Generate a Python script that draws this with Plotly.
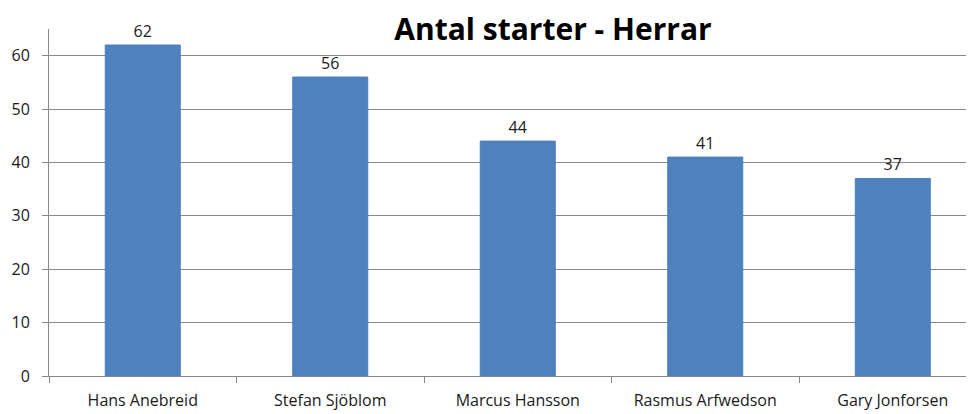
import plotly.graph_objects as go

names = ["Hans Anebreid", "Stefan Sjöblom", "Marcus Hansson", "Rasmus Arfwedson", "Gary Jonforsen"]
starts = [62, 56, 44, 41, 37]
y_ticks = [0, 10, 20, 30, 40, 50, 60]

FONT = "'Open Sans', Lato, sans-serif"
GRID = "#888888"
TXT = "#1a1a1a"

# page body has an 8px default margin -> figure sized to fit the window
W, H = 966, 406

fig = go.Figure(go.Bar(
    x=names, y=starts, width=0.4,
    marker=dict(color="#4F81BD", line=dict(color="#4A7EBB", width=1)),
    text=starts, textposition="outside", cliponaxis=False,
    textfont=dict(family=FONT, size=16, color=TXT),
))

fig.update_layout(
    width=W, height=H,
    margin=dict(l=41, r=0, t=21, b=38, autoexpand=False),
    paper_bgcolor="white", plot_bgcolor="white",
    showlegend=False,
    title=dict(text="<b>Antal starter - Herrar</b>", x=545/W, xanchor="center",
               y=1-21/H, yanchor="middle", xref="container", yref="container",
               font=dict(family=FONT, size=30, color="black")),
    font=dict(family=FONT, size=16, color=TXT),
)
fig.update_xaxes(
    type="category", range=[-0.5, 4.5 - 12.5/187.5], automargin=False,
    tickson="boundaries", ticks="outside", ticklen=6, tickcolor=GRID,
    showline=True, linecolor=GRID, linewidth=1, showgrid=False,
    tickfont=dict(family=FONT, size=16, color=TXT), ticklabelstandoff=10,
)
fig.update_yaxes(
    range=[0, 65], tickvals=y_ticks, ticks="outside", ticklen=6, tickcolor=GRID,
    showline=True, linecolor=GRID, linewidth=1, automargin=False,
    showgrid=True, gridcolor=GRID, gridwidth=1, zeroline=False,
    tickfont=dict(family=FONT, size=16, color=TXT), ticklabelstandoff=9,
)

fig.write_html("out.html")
